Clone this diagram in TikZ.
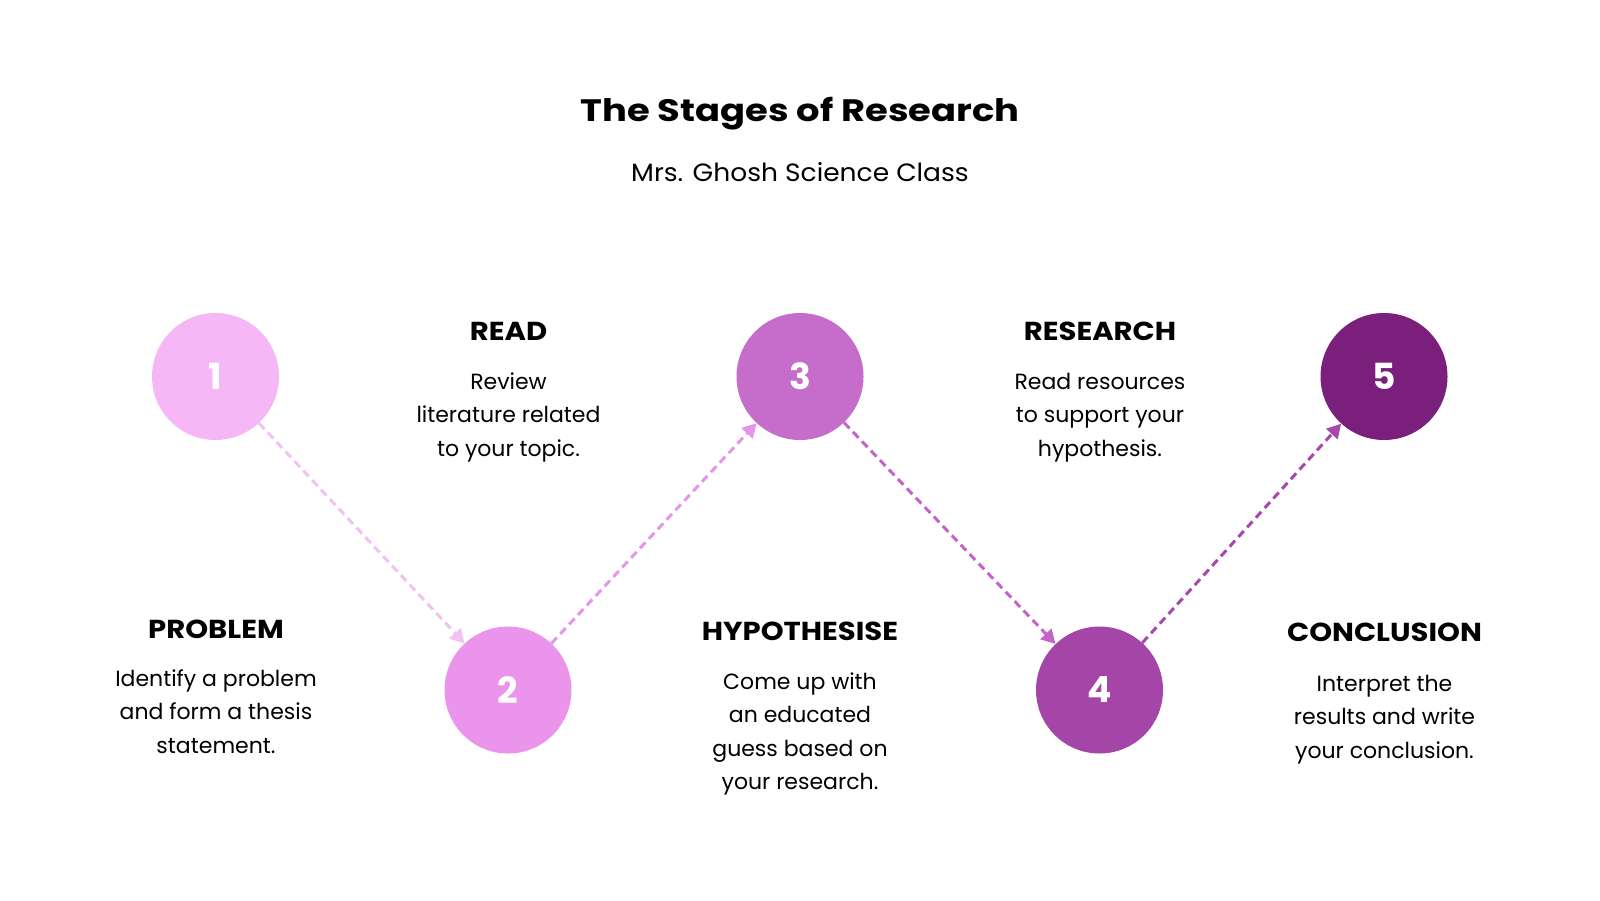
\documentclass[tikz,border=0pt]{standalone}
\usepackage{fontspec}
\setmainfont{Poppins}
\newfontfamily\headfont[FakeStretch=1.12]{Poppins}
\newfontfamily\titlefont[FakeStretch=1.19]{Poppins}
\newfontfamily\subfont[FakeStretch=1.06]{Poppins}
\usetikzlibrary{arrows.meta}
\definecolor{cA}{HTML}{F5B7F5}
\definecolor{cB}{HTML}{EA94EC}
\definecolor{cC}{HTML}{C66CCB}
\definecolor{cD}{HTML}{A545A8}
\definecolor{cE}{HTML}{7A1F7B}
\definecolor{aA}{HTML}{F0C3F2}
\definecolor{aB}{HTML}{E595EA}
\definecolor{aC}{HTML}{C464C8}
\definecolor{aD}{HTML}{A848AC}
\tikzset{
  stage/.style={circle, minimum size=127pt, inner sep=0pt, text=white,
    font=\fontsize{36}{36}\selectfont\bfseries},
  conn/.style={line width=3pt, dash pattern=on 8pt off 5pt,
    -{Triangle[length=14pt,width=15pt]}},
  head/.style={anchor=base, inner sep=0pt, font=\headfont\fontsize{26}{30}\selectfont\bfseries},
  body/.style={anchor=base, inner sep=0pt, align=center, font=\fontsize{22}{33.5}\selectfont},
}
\begin{document}
\begin{tikzpicture}[x=1pt,y=-1pt]
\useasboundingbox[fill=white] (0,0) rectangle (1600,900);
\node[anchor=base, inner sep=0pt, font=\titlefont\fontsize{31}{36}\selectfont\bfseries] (title) at (800,121.5) {The Stages of Research};
\node[anchor=base, inner sep=0pt, font=\subfont\fontsize{25}{30}\selectfont] (sub) at (800,181.5) {Mrs. Ghosh Science Class};

\node[stage, fill=cA] (s1) at (215.5,376.5) {1};
\node[stage, fill=cB] (s2) at (508,690) {2};
\node[stage, fill=cC] (s3) at (800,376.5) {3};
\node[stage, fill=cD] (s4) at (1099.5,690) {4};
\node[stage, fill=cE] (s5) at (1384,376.5) {5};

\draw[conn, aA] (s1) -- (s2);
\draw[conn, aB] (s2) -- (s3);
\draw[conn, aC] (s3) -- (s4);
\draw[conn, aD] (s4) -- (s5);

\node[head] (h1) at (216,638.5) {PROBLEM};
\node[body] (b1) at (216,753) {Identify a problem\\and form a thesis\\statement.};
\node[head] (h2) at (508.5,340.7) {READ};
\node[body] (b2) at (508.5,456.3) {Review\\literature related\\to your topic.};
\node[head] (h3) at (800,640) {HYPOTHESISE};
\node[body] (b3) at (800,789.8) {Come up with\\an educated\\guess based on\\your research.};
\node[head] (h4) at (1100,340.7) {RESEARCH};
\node[body] (b4) at (1100,456) {Read resources\\to support your\\hypothesis.};
\node[head] (h5) at (1384.5,641.7) {CONCLUSION};
\node[body] (b5) at (1384.5,758) {Interpret the\\results and write\\your conclusion.};
\end{tikzpicture}
\end{document}
